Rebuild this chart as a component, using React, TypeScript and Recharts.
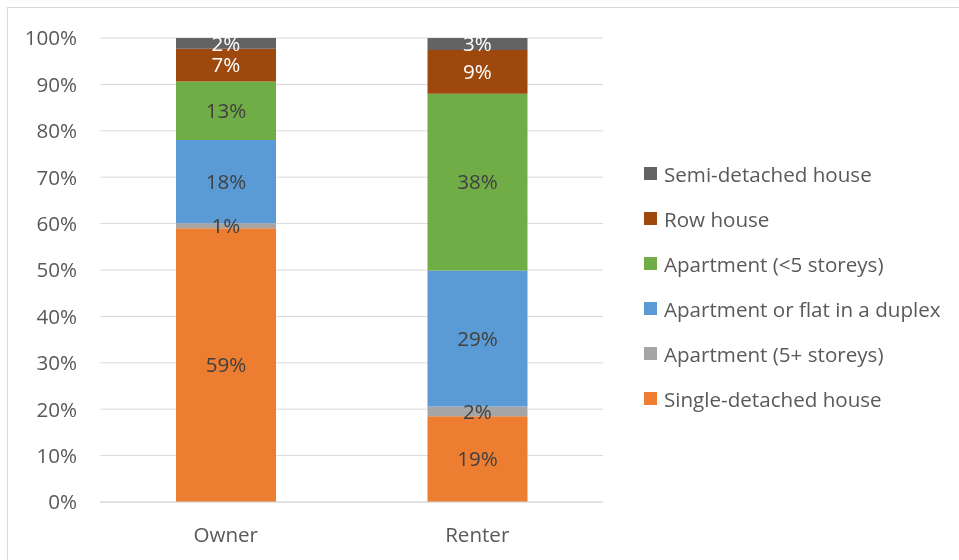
import React from 'react';
import { BarChart, Bar, XAxis, YAxis, CartesianGrid, Legend, LabelList } from 'recharts';

const categories = ['Owner', 'Renter'];
const singleDetached = [59.0, 18.5];
const apartment5Plus = [1.1, 2.1];
const duplex = [17.9, 29.3];
const apartmentUnder5 = [12.6, 38.1];
const rowHouse = [7.1, 9.4];
const semiDetached = [2.3, 2.6];
const yTicks = [0, 10, 20, 30, 40, 50, 60, 70, 80, 90, 100];

const series = [
  { key: 'single', name: 'Single-detached house', values: singleDetached, color: '#ED7D31', label: '#404040' },
  { key: 'apt5', name: 'Apartment (5+ storeys)', values: apartment5Plus, color: '#A5A5A5', label: '#404040' },
  { key: 'duplex', name: 'Apartment or flat in a duplex', values: duplex, color: '#5B9BD5', label: '#404040' },
  { key: 'aptLt5', name: 'Apartment (<5 storeys)', values: apartmentUnder5, color: '#70AD47', label: '#404040' },
  { key: 'row', name: 'Row house', values: rowHouse, color: '#9E480E', label: '#FFFFFF' },
  { key: 'semi', name: 'Semi-detached house', values: semiDetached, color: '#636363', label: '#FFFFFF' },
];

const data = categories.map((c, i) => {
  const row: Record<string, any> = { category: c };
  series.forEach((s) => {
    row[s.key] = s.values[i];
  });
  return row;
});

const FONT = '"Open Sans", Lato, sans-serif';
const FS = 20.6;

const LegendContent = (props: any) => {
  const payload = [...(props.payload || [])];
  const order = series.map((s) => s.name).reverse();
  payload.sort((a: any, b: any) => order.indexOf(a.value) - order.indexOf(b.value));
  return (
    <div style={{ fontFamily: FONT, fontSize: FS, color: '#595959', whiteSpace: 'nowrap' }}>
      {payload.map((p: any) => (
        <div key={p.value} style={{ display: 'flex', alignItems: 'center', height: 45 }}>
          <span style={{ display: 'inline-block', width: 13, height: 13, background: p.color, marginRight: 7 }} />
          <span>{p.value}</span>
        </div>
      ))}
    </div>
  );
};

export default function App() {
  return (
    <div style={{ position: 'relative', width: 943, height: 544, background: '#fff' }}>
      <div
        style={{
          position: 'fixed',
          left: 7,
          top: 7,
          width: 1000,
          height: 600,
          border: '1px solid #d9d9d9',
          pointerEvents: 'none',
        }}
      />
      <BarChart
        width={942}
        height={543}
        data={data}
        margin={{ top: 30, right: 347, left: 0, bottom: 19 }}
      >
        <CartesianGrid vertical={false} stroke="#d9d9d9" strokeWidth={1} />
        <XAxis
          dataKey="category"
          axisLine={{ stroke: '#d9d9d9' }}
          tickLine={false}
          tickMargin={19}
          tick={{ fill: '#595959', fontSize: FS, fontFamily: FONT }}
        />
        <YAxis
          width={92}
          domain={[0, 100]}
          ticks={yTicks}
          tickFormatter={(v: number) => `${v}%`}
          axisLine={false}
          tickLine={false}
          tickMargin={17}
          tick={{ fill: '#595959', fontSize: FS, fontFamily: FONT }}
        />
        <Legend
          layout="vertical"
          align="center"
          verticalAlign="middle"
          wrapperStyle={{ left: 636, top: 143, width: 320 }}
          content={<LegendContent />}
        />
        {series.map((s) => (
          <Bar key={s.key} dataKey={s.key} name={s.name} stackId="a" fill={s.color} barSize={100} isAnimationActive={false}>
            <LabelList
              dataKey={s.key}
              position="center"
              formatter={(v: any) => `${Math.round(Number(v))}%`}
              style={{ fill: s.label, fontSize: FS, fontFamily: FONT }}
            />
          </Bar>
        ))}
      </BarChart>
    </div>
  );
}
